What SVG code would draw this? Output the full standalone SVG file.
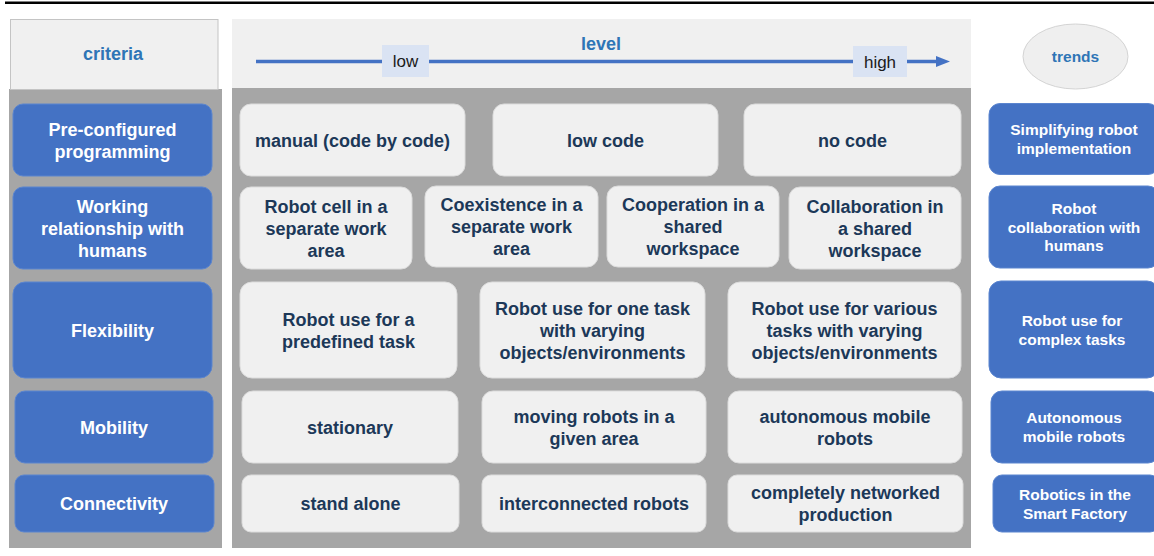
<svg xmlns="http://www.w3.org/2000/svg" width="1154" height="556" viewBox="0 0 1154 556">
  <defs>
    <style>
      text { font-family: "Liberation Sans", Arial, sans-serif; font-weight: bold; text-anchor: middle; }
      .crit rect { fill: #4472c4; stroke: #5b85cf; stroke-width: 1; }
      .crit text { fill: #ffffff; font-size: 18px; }
      .trend rect { fill: #4472c4; stroke: #5b85cf; stroke-width: 1; }
      .trend text { fill: #ffffff; font-size: 15.5px; }
      .lvl rect { fill: #f0f0f0; stroke: #dcdcdc; stroke-width: 1; }
      .lvl text { fill: #1c3858; font-size: 18px; }
      .head { fill: #2e75b6; font-size: 18px; }
      .tag rect { fill: #dae3f3; }
      .tag text { fill: #1a1a1a; font-weight: normal; font-size: 17px; }
      .axis { stroke: #4472c4; stroke-width: 3.5; fill: none; }
    </style>
  </defs>

  <rect x="0" y="0" width="1154" height="556" fill="#ffffff"/>
  <!-- top rule -->
  <line x1="5" y1="2.8" x2="1154" y2="2.8" stroke="#000000" stroke-width="2.6"/>

  <!-- column backgrounds -->
  <g id="background">
    <rect x="9" y="89" width="213" height="459" fill="#a6a6a6"/>
    <rect x="10.5" y="19.5" width="207.5" height="70" fill="#f0f0f0" stroke="#c4c4c4" stroke-width="1"/>
    <rect x="232" y="88" width="739" height="460" fill="#a6a6a6"/>
    <rect x="232" y="19" width="739" height="69" fill="#f0f0f0"/>
  </g>

  <!-- headers -->
  <g id="header-criteria"><text class="head" x="113" y="60">criteria</text></g>
  <g id="header-level"><text class="head" x="601" y="50">level</text></g>
  <g id="header-trends">
    <ellipse cx="1075.5" cy="56.5" rx="52.5" ry="32.5" fill="#efefef" stroke="#d4d4d4" stroke-width="1"/>
    <text class="head" x="1075.5" y="62" style="font-size:15.5px">trends</text>
  </g>

  <!-- level scale arrow -->
  <g id="connectors">
    <line class="axis" x1="256" y1="61.5" x2="938" y2="61.5"/>
    <polygon points="936,56 950,61.5 936,67" fill="#4472c4"/>
  </g>
  <g id="tag-low" class="tag">
    <rect x="382" y="45" width="47" height="32"/>
    <text x="405.5" y="67">low</text>
  </g>
  <g id="tag-high" class="tag">
    <rect x="853" y="46" width="54" height="31"/>
    <text x="880" y="68">high</text>
  </g>

  <!-- criteria -->
  <g id="crit-programming" class="crit">
    <rect x="13" y="104" width="199" height="72" rx="10"/>
    <text x="112.5" y="135.5">Pre-configured</text>
    <text x="112.5" y="157.5">programming</text>
  </g>
  <g id="crit-relationship" class="crit">
    <rect x="13" y="187" width="199" height="82" rx="10"/>
    <text x="112.5" y="213">Working</text>
    <text x="112.5" y="235">relationship with</text>
    <text x="112.5" y="257">humans</text>
  </g>
  <g id="crit-flexibility" class="crit">
    <rect x="13" y="282" width="199" height="96" rx="12"/>
    <text x="112.5" y="336.5">Flexibility</text>
  </g>
  <g id="crit-mobility" class="crit">
    <rect x="15" y="391" width="198" height="72" rx="10"/>
    <text x="114" y="433.5">Mobility</text>
  </g>
  <g id="crit-connectivity" class="crit">
    <rect x="15" y="475" width="199" height="57" rx="9"/>
    <text x="114" y="510">Connectivity</text>
  </g>

  <!-- level: programming -->
  <g id="lvl-manual" class="lvl">
    <rect x="240" y="104" width="225" height="72" rx="11"/>
    <text x="352.5" y="146.5">manual (code by code)</text>
  </g>
  <g id="lvl-lowcode" class="lvl">
    <rect x="493" y="104" width="225" height="72" rx="11"/>
    <text x="605.5" y="146.5">low code</text>
  </g>
  <g id="lvl-nocode" class="lvl">
    <rect x="744" y="104" width="217" height="72" rx="11"/>
    <text x="852.5" y="146.5">no code</text>
  </g>

  <!-- level: working relationship -->
  <g id="lvl-cell" class="lvl">
    <rect x="240" y="187" width="172" height="82" rx="11"/>
    <text x="326" y="213">Robot cell in a</text>
    <text x="326" y="235">separate work</text>
    <text x="326" y="257">area</text>
  </g>
  <g id="lvl-coexistence" class="lvl">
    <rect x="425" y="186" width="173" height="81" rx="11"/>
    <text x="511.5" y="211">Coexistence in a</text>
    <text x="511.5" y="233">separate work</text>
    <text x="511.5" y="255">area</text>
  </g>
  <g id="lvl-cooperation" class="lvl">
    <rect x="607" y="186" width="172" height="81" rx="11"/>
    <text x="693" y="211">Cooperation in a</text>
    <text x="693" y="233">shared</text>
    <text x="693" y="255">workspace</text>
  </g>
  <g id="lvl-collaboration" class="lvl">
    <rect x="789" y="187" width="172" height="82" rx="11"/>
    <text x="875" y="213">Collaboration in</text>
    <text x="875" y="235">a shared</text>
    <text x="875" y="257">workspace</text>
  </g>

  <!-- level: flexibility -->
  <g id="lvl-predefined" class="lvl">
    <rect x="240" y="282" width="217" height="96" rx="12"/>
    <text x="348.5" y="325.5">Robot use for a</text>
    <text x="348.5" y="347.5">predefined task</text>
  </g>
  <g id="lvl-onetask" class="lvl">
    <rect x="480" y="282" width="225" height="96" rx="12"/>
    <text x="592.5" y="314.5">Robot use for one task</text>
    <text x="592.5" y="336.5">with varying</text>
    <text x="592.5" y="358.5">objects/environments</text>
  </g>
  <g id="lvl-various" class="lvl">
    <rect x="728" y="282" width="233" height="96" rx="12"/>
    <text x="844.5" y="314.5">Robot use for various</text>
    <text x="844.5" y="336.5">tasks with varying</text>
    <text x="844.5" y="358.5">objects/environments</text>
  </g>

  <!-- level: mobility -->
  <g id="lvl-stationary" class="lvl">
    <rect x="242" y="391" width="216" height="72" rx="11"/>
    <text x="350" y="433.5">stationary</text>
  </g>
  <g id="lvl-moving" class="lvl">
    <rect x="482" y="391" width="224" height="72" rx="11"/>
    <text x="594" y="422.5">moving robots in a</text>
    <text x="594" y="444.5">given area</text>
  </g>
  <g id="lvl-amr" class="lvl">
    <rect x="728" y="391" width="234" height="72" rx="11"/>
    <text x="845" y="422.5">autonomous mobile</text>
    <text x="845" y="444.5">robots</text>
  </g>

  <!-- level: connectivity -->
  <g id="lvl-standalone" class="lvl">
    <rect x="242" y="475" width="217" height="57" rx="9"/>
    <text x="350.5" y="510">stand alone</text>
  </g>
  <g id="lvl-interconnected" class="lvl">
    <rect x="482" y="475" width="224" height="57" rx="9"/>
    <text x="594" y="510">interconnected robots</text>
  </g>
  <g id="lvl-networked" class="lvl">
    <rect x="728" y="475" width="235" height="57" rx="9"/>
    <text x="845.5" y="499">completely networked</text>
    <text x="845.5" y="521">production</text>
  </g>

  <!-- trends -->
  <g id="trend-implementation" class="trend">
    <rect x="989" y="103.5" width="170" height="71" rx="11"/>
    <text x="1074" y="135">Simplifying robot</text>
    <text x="1074" y="153.5">implementation</text>
  </g>
  <g id="trend-collaboration" class="trend">
    <rect x="989" y="186" width="170" height="82" rx="11"/>
    <text x="1074" y="214">Robot</text>
    <text x="1074" y="232.5">collaboration with</text>
    <text x="1074" y="251">humans</text>
  </g>
  <g id="trend-complex" class="trend">
    <rect x="989" y="281" width="170" height="97" rx="12"/>
    <text x="1072" y="326">Robot use for</text>
    <text x="1072" y="344.5">complex tasks</text>
  </g>
  <g id="trend-amr" class="trend">
    <rect x="991" y="391" width="168" height="72" rx="11"/>
    <text x="1074" y="423">Autonomous</text>
    <text x="1074" y="441.5">mobile robots</text>
  </g>
  <g id="trend-factory" class="trend">
    <rect x="993" y="475" width="166" height="57" rx="9"/>
    <text x="1075" y="500">Robotics in the</text>
    <text x="1075" y="518.5">Smart Factory</text>
  </g>
</svg>
